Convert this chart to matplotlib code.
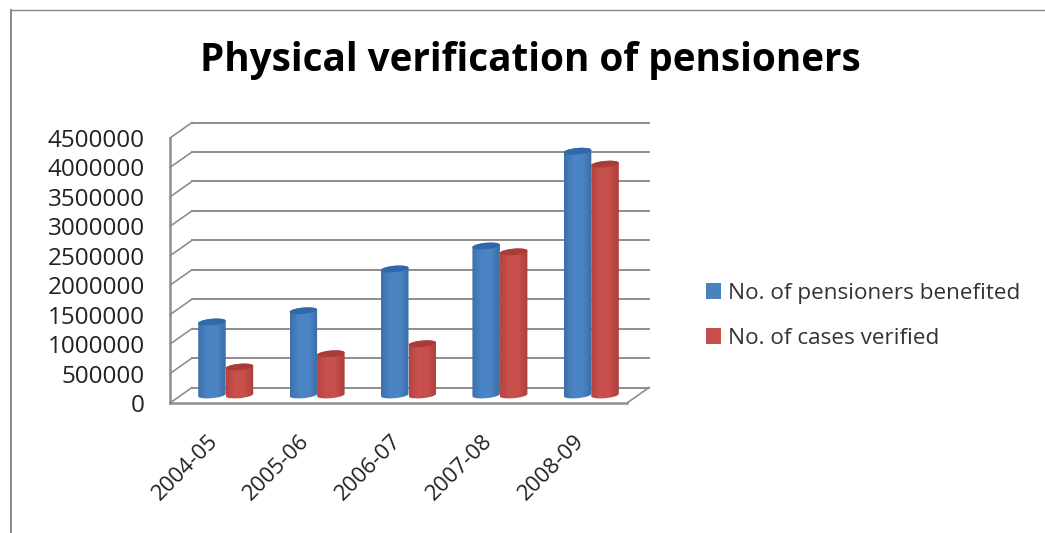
import numpy as np
import matplotlib
matplotlib.use("Agg")
import matplotlib.pyplot as plt
from matplotlib.colors import LinearSegmentedColormap
from matplotlib.lines import Line2D
from matplotlib.patches import Patch, Polygon
from matplotlib.transforms import Affine2D

years = ["2004-05", "2005-06", "2006-07", "2007-08", "2008-09"]
pensioners = [1240000, 1430000, 2140000, 2530000, 4140000]
cases = [475000, 700000, 870000, 2430000, 3920000]
y_ticks = [0, 500000, 1000000, 1500000, 2000000, 2500000, 3000000, 3500000, 4000000, 4500000]

W, H = 1045, 533
GRID = "#8e8e8e"
PX_PER_VALUE = 265 / 4500000
PX_PER_X = 457 / 5

plt.rcParams["font.family"] = ["Open Sans", "DejaVu Sans"]


def draw_cylinder(ax, x0, width, value, trans, shades, top_color):
    # outline in data units, slightly tilted like the old Excel 3D cylinders
    t = np.linspace(0, 2 * np.pi, 80)
    cx = x0 + width / 2
    xs = cx + width / 2 * np.cos(t)
    dy = 3.2 / PX_PER_VALUE
    tilt = 1.2 / PX_PER_VALUE
    wobble = dy * np.sin(t) + tilt * np.cos(t)

    low = t >= np.pi
    high = t <= np.pi
    outline = np.vstack([
        np.column_stack([xs[low], wobble[low]]),
        np.column_stack([xs[high], value + wobble[high]]),
    ])
    shape = Polygon(outline, closed=True, transform=trans, facecolor="none",
                    edgecolor="none", clip_on=False)
    ax.add_patch(shape)

    cmap = LinearSegmentedColormap.from_list("shade", shades)
    grad = np.linspace(0, 1, 64).reshape(1, -1)
    im = ax.imshow(grad, cmap=cmap, aspect="auto", zorder=3, interpolation="bilinear",
                   extent=(x0, x0 + width, -dy * 2, value + dy * 2), transform=trans)
    im.set_clip_path(shape)

    top = np.column_stack([xs, value + wobble])
    ax.add_patch(Polygon(top, closed=True, transform=trans, facecolor=top_color,
                         edgecolor="none", zorder=4, clip_on=False))


fig = plt.figure(figsize=(W / 100, H / 100), dpi=100, facecolor="white")
ax = fig.add_axes([170 / W, (H - 403) / H, 457 / W, 265 / H])
ax.set_facecolor("none")
for s in ax.spines.values():
    s.set_visible(False)

back = ax.transData + Affine2D().translate(22, 15.5)
mid = ax.transData + Affine2D().translate(10, 8)

# walls: gridlines along the back, short diagonals on the side wall
for v in y_ticks:
    ax.plot([0, 5], [v, v], transform=back, color=GRID, lw=1.4, clip_on=False, zorder=1)
    x_side = [0, 22 / PX_PER_X]
    ax.plot(x_side, [v, v + 15.5 / PX_PER_VALUE], color=GRID, lw=1.2, clip_on=False, zorder=1)
ax.plot([0, 0], [0, y_ticks[-1]], color=GRID, lw=1.8, clip_on=False, zorder=2)
ax.plot([0, 5], [0, 0], color=GRID, lw=1.8, clip_on=False, zorder=2)
ax.plot([5, 5 + 22 / PX_PER_X], [0, 15.5 / PX_PER_VALUE], color=GRID, lw=1.2, clip_on=False, zorder=2)

bar_w = 27.5 / PX_PER_X
blue = ["#3e70aa", "#4a84c4", "#4b85c5", "#3b6ca6"]
red = ["#b5433f", "#c9524e", "#c84f4b", "#ab3e3a"]
for i, (a, b) in enumerate(zip(pensioners, cases)):
    draw_cylinder(ax, i + 0.5 - bar_w, bar_w, a, mid, blue, "#3069aa")
    draw_cylinder(ax, i + 0.5, bar_w, b, mid, red, "#a83c39")

ax.set_xlim(0, 5)
ax.set_ylim(0, 4500000)
ax.set_yticks(y_ticks)
ax.set_yticklabels([str(v) for v in y_ticks], fontsize=17.5, color="#222222")
ax.set_xticks(np.arange(5) + 0.5)
ax.set_xticklabels(years, rotation=45, ha="right", va="top", rotation_mode="anchor",
                   fontsize=16, color="#222222")
ax.tick_params(axis="both", length=0)
ax.tick_params(axis="y", pad=18)
ax.tick_params(axis="x", pad=20)
# the rotated labels sit a little left of the category centres
for lab in ax.get_xticklabels():
    lab.set_transform(lab.get_transform() + Affine2D().translate(-8, 0))

fig.text(530 / W, 1 - 61 / H, "Physical verification of pensioners", ha="center", va="center",
         fontsize=27.8, fontweight="bold", color="black")

handles = [Patch(facecolor="#4a82c0", label="No. of pensioners benefited"),
           Patch(facecolor="#c64f4b", label="No. of cases verified")]
fig.legend(handles=handles, loc="center left", bbox_to_anchor=(706 / W, 1 - 316 / H), frameon=False,
           fontsize=16.2, labelcolor="#333333", handlelength=0.68, handleheight=0.68,
           handletextpad=0.28, labelspacing=1.06, borderpad=0, borderaxespad=0)

# frame of the pasted chart
fig.add_artist(Line2D([11 / W, 11 / W], [0, 1 - 10 / H], color="#8a8a8a", lw=1.4))
fig.add_artist(Line2D([11 / W, 1], [1 - 10 / H, 1 - 10 / H], color="#8a8a8a", lw=1.0))

fig.savefig("out.png", dpi=100)
